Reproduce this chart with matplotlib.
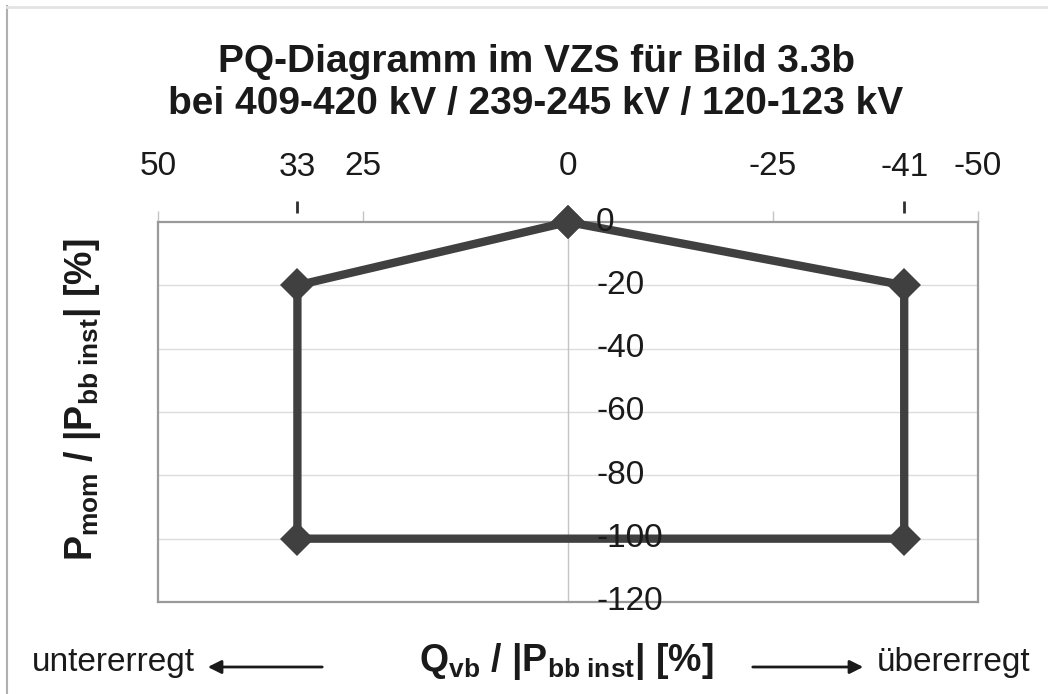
import matplotlib
matplotlib.use("Agg")
import matplotlib.pyplot as plt
from matplotlib.ticker import FixedLocator, FixedFormatter
from matplotlib.patches import FancyArrowPatch
import matplotlib.transforms as mtransforms

# ---- data ----
q_values = [0, -41, -41, 33, 33, 0]          # Q_vb / |P_bb inst| [%]
p_values = [0, -20, -100, -100, -20, 0]       # P_mom / |P_bb inst| [%]
q_major_ticks = [50, 25, 0, -25, -50]
q_extra_ticks = [33, -41]
p_ticks = [0, -20, -40, -60, -80, -100, -120]

title_line1 = "PQ-Diagramm im VZS für Bild 3.3b"
title_line2 = "bei 409-420 kV / 239-245 kV / 120-123 kV"

plt.rcParams['font.family'] = ['Liberation Sans', 'DejaVu Sans']
plt.rcParams['mathtext.fontset'] = 'custom'
plt.rcParams['mathtext.rm'] = 'Liberation Sans'
plt.rcParams['mathtext.bf'] = 'Liberation Sans:bold'
plt.rcParams['mathtext.it'] = 'Liberation Sans:italic'

W, H = 1048, 694
fig = plt.figure(figsize=(W / 100, H / 100), dpi=100)
fig.patch.set_facecolor('white')

# outer frame (partially visible)
fig.add_artist(plt.Line2D([7 / W, 7 / W], [0, 1 - 6 / H], transform=fig.transFigure,
                          color='#b0b0b0', lw=1.5))
fig.add_artist(plt.Line2D([7 / W, 1], [1 - 6.5 / H, 1 - 6.5 / H], transform=fig.transFigure,
                          color='#e3e3e3', lw=2))

ax = fig.add_axes([158 / W, 92 / H, 820 / W, 380 / H])
ax.set_xlim(50, -50)
ax.set_ylim(-120, 0)

for s in ax.spines.values():
    s.set_color('#9a9a9a')
    s.set_linewidth(1.6)

# horizontal gridlines
for y in p_ticks[1:-1]:
    ax.axhline(y, color='#dcdcdc', lw=1.0, zorder=1)
# vertical line at Q = 0
ax.axvline(0, color='#c4c4c4', lw=1.0, zorder=1)

# polygon
ax.plot(q_values, p_values, color='#404040', lw=6, marker='D', markersize=17,
        markeredgewidth=0, solid_joinstyle='miter', zorder=3, clip_on=False)

# x ticks on top
ax.xaxis.tick_top()
ax.xaxis.set_major_locator(FixedLocator(q_major_ticks))
ax.xaxis.set_major_formatter(FixedFormatter([str(v) for v in q_major_ticks]))
ax.xaxis.set_minor_locator(FixedLocator(q_extra_ticks))
ax.xaxis.set_minor_formatter(FixedFormatter([str(v) for v in q_extra_ticks]))
ax.tick_params(axis='x', which='major', direction='out', length=8, width=1,
               color='#c4c4c4', labelsize=24, pad=21, labelcolor='#1a1a1a',
               top=True, bottom=False, labeltop=True, labelbottom=False)
ax.tick_params(axis='x', which='minor', length=0, labelsize=24, pad=28,
               labelcolor='#1a1a1a', top=True, bottom=False, labeltop=True,
               labelbottom=False)
ax.set_yticks([])

# dark marks above the extra ticks
trans_xa = mtransforms.blended_transform_factory(ax.transData, ax.transAxes)
for q in q_extra_ticks:
    ax.plot([q, q], [1 + 9 / 380, 1 + 21 / 380], transform=trans_xa, color='#303030',
            lw=2, clip_on=False, solid_capstyle='butt')

# y labels next to the Q = 0 line
offset = mtransforms.offset_copy(ax.transData, fig=fig, x=28, y=0, units='dots')
for y in p_ticks:
    ax.text(0, y, str(y), transform=offset, ha='left', va='center', fontsize=24,
            color='#1a1a1a', zorder=5, clip_on=False)

# titles
fig.text(536 / W, 1 - 62 / H, title_line1, ha='center', va='center', fontsize=28,
         fontweight='bold', color='#1a1a1a')
fig.text(536 / W, 1 - 104 / H, title_line2, ha='center', va='center', fontsize=28,
         fontweight='bold', color='#1a1a1a')

# axis labels
fig.text(83 / W, 1 - 400 / H, r'$\mathbf{P_{mom}\ /\ |P_{bb\ inst}|\ [\%]}$',
         rotation=90, ha='center', va='center', fontsize=27, color='#1a1a1a')
fig.text(566 / W, 1 - 662 / H, r'$\mathbf{Q_{vb}\ /\ |P_{bb\ inst}|\ [\%]}$',
         ha='center', va='center', fontsize=27, color='#1a1a1a')

# excitation annotations
fig.text(32 / W, 1 - 662 / H, 'untererregt', ha='left', va='center', fontsize=24,
         color='#1a1a1a')
fig.text(1030 / W, 1 - 662 / H, 'übererregt', ha='right', va='center', fontsize=24,
         color='#1a1a1a')
fig.add_artist(FancyArrowPatch((325 / W, 1 - 667 / H), (205 / W, 1 - 667 / H),
               transform=fig.transFigure, arrowstyle='-|>', mutation_scale=20,
               color='#1a1a1a', lw=2))
fig.add_artist(FancyArrowPatch((750 / W, 1 - 667 / H), (866 / W, 1 - 667 / H),
               transform=fig.transFigure, arrowstyle='-|>', mutation_scale=20,
               color='#1a1a1a', lw=2))

fig.savefig('out.png', dpi=100)
